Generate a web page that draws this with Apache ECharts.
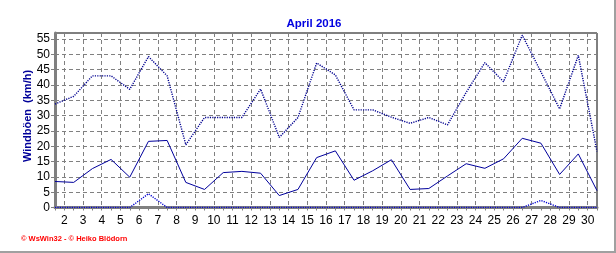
<!DOCTYPE html>
<html>
<head>
<meta charset="utf-8">
<script src="https://cdn.jsdelivr.net/npm/echarts@6/dist/echarts.min.js"></script>
<style>
html,body{margin:0;padding:0;background:#fff;}
#c{width:616px;height:253px;}
</style>
</head>
<body>
<div id="c"></div>
<script>
var days = [1,2,3,4,5,6,7,8,9,10,11,12,13,14,15,16,17,18,19,20,21,22,23,24,25,26,27,28,29,30];
var gustMax = [33.8, 36.3, 43.0, 43.0, 38.6, 49.3, 43.0, 20.5, 29.4, 29.4, 29.4, 38.7, 22.9, 29.4, 47.2, 43.3, 31.9, 31.9, 29.5, 27.5, 29.4, 27.0, 37.6, 47.3, 41.1, 56.3, 44.3, 32.2, 49.7, 18.3];
var gustAvg = [8.5, 8.2, 12.7, 15.7, 9.9, 21.6, 21.9, 8.2, 5.9, 11.4, 11.8, 11.2, 3.9, 5.9, 16.3, 18.5, 8.9, 12.0, 15.6, 5.9, 6.2, 10.3, 14.3, 12.8, 15.9, 22.6, 21.0, 10.8, 17.5, 5.5];
var gustMin = [0, 0, 0, 0, 0, 4.5, 0, 0, 0, 0, 0, 0, 0, 0, 0, 0, 0, 0, 0, 0, 0, 0, 0, 0, 0, 0, 2.3, 0, 0, 0];
var yTicks = [0,5,10,15,20,25,30,35,40,45,50,55];
var titleText = 'April 2016';
var yName = 'Windböen  (km/h)';
var footer = '\u00A9 WsWin32 - \u00A9 Heiko Blödorn';

// half-day category positions: 1.5, 2, 2.5, ... 30.5
var cats = [];
for (var i = 0; i < days.length; i++) {
  cats.push(String(days[i] + 0.5));
  if (i < days.length - 1) cats.push(String(days[i + 1]));
}
function toPairs(arr) {
  return arr.map(function (v, i) { return [String(days[i] + 0.5), v]; });
}
function isInt(v) { return String(v).indexOf('.') < 0; }

var chart = echarts.init(document.getElementById('c'), null, {renderer: 'canvas'});
var lineColor = '#00009C';
chart.setOption({
  animation: false,
  backgroundColor: '#fff',
  title: {
    text: titleText, left: 309, top: 13, textAlign: 'center',
    textStyle: {fontFamily: 'Liberation Sans', fontSize: 11.5, fontWeight: 'bold', color: '#0000E0'}
  },
  grid: {left: 55, right: 19, top: 33, bottom: 45.5, show: true, borderColor: '#000', borderWidth: 1, backgroundColor: 'transparent'},
  xAxis: {
    type: 'category', data: cats, boundaryGap: false,
    axisLine: {lineStyle: {color: '#808080', width: 3}},
    axisTick: {show: true, interval: 0, length: 3, lineStyle: {color: '#808080'}},
    axisLabel: {
      interval: function (idx, val) { return isInt(val); },
      color: '#000', fontFamily: 'Liberation Sans', fontSize: 12, margin: 7
    },
    splitLine: {
      show: true,
      interval: function (idx, val) { return isInt(val); },
      lineStyle: {color: '#808080', type: [4, 3], width: 1}
    }
  },
  yAxis: {
    type: 'value', min: 0, max: 57, interval: 5,
    axisLine: {show: true, lineStyle: {color: '#808080', width: 3}},
    axisTick: {show: true, length: 4, lineStyle: {color: '#808080'}},
    axisLabel: {
      color: '#000', fontFamily: 'Liberation Sans', fontSize: 12, margin: 5, showMaxLabel: false,
      formatter: function (v) { return yTicks.indexOf(v) >= 0 ? String(v) : ''; }
    },
    splitLine: {show: true, lineStyle: {color: '#808080', type: [4, 3], width: 1}}
  },
  series: [
    {type: 'line', data: toPairs(gustMax), symbol: 'none', lineStyle: {color: '#000090', width: 1.4, type: [1.2, 1.2]}, z: 3},
    {type: 'line', data: toPairs(gustAvg), symbol: 'none', lineStyle: {color: lineColor, width: 1, type: 'solid'}, z: 3},
    {type: 'line', data: toPairs(gustMin), symbol: 'none', lineStyle: {color: '#0000D0', width: 1.4, type: [1.2, 1.2]}, z: 4}
  ],
  graphic: [
    {type: 'text', x: 27.5, y: 116, rotation: Math.PI / 2,
     style: {text: yName, fill: '#000099', font: 'bold 11px "Liberation Sans"', align: 'center', verticalAlign: 'middle'}},
    {type: 'text', x: 21, y: 239,
     style: {text: footer, fill: '#FF0000', font: 'bold 7.5px "Liberation Sans"', align: 'left', verticalAlign: 'middle'}},
    {type: 'rect', shape: {x: 0, y: 251, width: 616, height: 2}, style: {fill: '#A0A0A0'}},
    {type: 'rect', shape: {x: 614, y: 0, width: 2, height: 253}, style: {fill: '#A0A0A0'}}
  ]
});
</script>
</body>
</html>
